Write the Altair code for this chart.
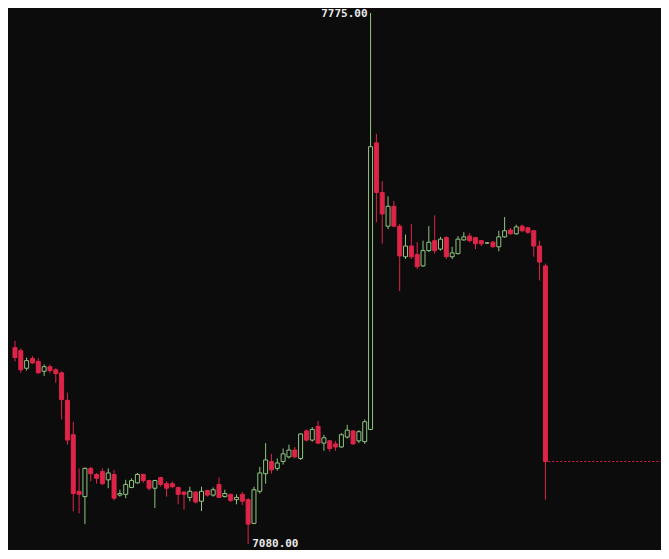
import altair as alt
import pandas as pd

# OHLC values (one entry per candle, left to right)
opens = [7337, 7333, 7310, 7323, 7319, 7306, 7312, 7308, 7304, 7268,
         7223, 7149, 7142, 7179, 7171, 7175, 7164, 7171, 7144, 7145,
         7154, 7160, 7171, 7163, 7153, 7167, 7159, 7159, 7154, 7148,
         7141, 7148, 7136, 7150, 7144, 7158, 7142, 7145, 7138, 7145,
         7138, 7107, 7149, 7172, 7188, 7179, 7188, 7194, 7203, 7192,
         7228, 7216, 7234, 7212, 7215, 7211, 7207, 7220, 7228, 7215,
         7214, 7230, 7605, 7540, 7496, 7522, 7496, 7456, 7470, 7459,
         7444, 7464, 7477, 7466, 7481, 7456, 7460, 7478, 7483, 7481,
         7477, 7474, 7475, 7469, 7482, 7491, 7486, 7496, 7494, 7490,
         7470, 7444]
highs = [7346, 7336, 7324, 7326, 7323, 7315, 7315, 7310, 7306, 7278,
         7240, 7179, 7180, 7181, 7173, 7179, 7179, 7177, 7151, 7164,
         7166, 7173, 7172, 7164, 7164, 7168, 7162, 7162, 7155, 7149,
         7155, 7149, 7155, 7151, 7154, 7167, 7151, 7146, 7145, 7148,
         7140, 7155, 7181, 7212, 7198, 7192, 7205, 7210, 7207, 7225,
         7230, 7233, 7241, 7223, 7216, 7215, 7225, 7236, 7229, 7229,
         7243, 7775, 7617, 7555, 7535, 7529, 7499, 7485, 7499, 7475,
         7477, 7496, 7510, 7482, 7483, 7469, 7483, 7488, 7487, 7482,
         7478, 7475, 7477, 7490, 7508, 7494, 7498, 7498, 7495, 7491,
         7477, 7447]
lows = [7319, 7304, 7307, 7316, 7303, 7300, 7304, 7291, 7243, 7210,
        7123, 7120, 7106, 7162, 7159, 7157, 7153, 7137, 7142, 7140,
        7153, 7159, 7160, 7150, 7127, 7155, 7142, 7153, 7132, 7125,
        7136, 7133, 7123, 7142, 7142, 7140, 7141, 7135, 7132, 7131,
        7080, 7106, 7146, 7159, 7172, 7176, 7184, 7192, 7192, 7190,
        7214, 7214, 7211, 7202, 7201, 7202, 7206, 7218, 7210, 7212,
        7211, 7229, 7501, 7473, 7492, 7495, 7411, 7453, 7453, 7440,
        7443, 7462, 7460, 7464, 7453, 7453, 7459, 7477, 7475, 7466,
        7470, 7473, 7468, 7463, 7481, 7485, 7485, 7488, 7486, 7456,
        7425, 7138]
closes = [7324, 7308, 7320, 7317, 7304, 7312, 7307, 7303, 7269, 7216,
          7146, 7145, 7179, 7172, 7166, 7159, 7173, 7140, 7146, 7158,
          7163, 7171, 7163, 7153, 7163, 7158, 7153, 7155, 7145, 7145,
          7149, 7135, 7149, 7144, 7151, 7141, 7146, 7137, 7141, 7136,
          7106, 7151, 7173, 7190, 7177, 7186, 7198, 7203, 7194, 7224,
          7216, 7230, 7212, 7219, 7205, 7207, 7223, 7229, 7211, 7227,
          7240, 7600, 7540, 7512, 7522, 7496, 7457, 7470, 7456, 7443,
          7464, 7475, 7464, 7479, 7456, 7461, 7479, 7482, 7477, 7473,
          7473, 7474, 7469, 7482, 7490, 7486, 7495, 7490, 7488, 7470,
          7449, 7188]
label_prices = [7775.00, 7080.00]
label_texts = ["7775.00", "7080.00"]

BG = "#0c0c0c"
RED = "#de2448"
GREEN = "#8ec57f"
W, H = 653, 542

n = len(opens)
df = pd.DataFrame({"i": list(range(n)), "open": opens, "high": highs,
                   "low": lows, "close": closes})
df["dir"] = ["up" if c >= o else "down" for o, c in zip(opens, closes)]

xs = alt.Scale(domain=[-0.338, 109.97], nice=False, zero=False)
ys = alt.Scale(domain=[7072.15, 7781.54], nice=False, zero=False)
cs = alt.Scale(domain=["up", "down"], range=[GREEN, RED])
fs = alt.Scale(domain=["up", "down"], range=[BG, RED])

X = alt.X("i:Q", scale=xs, axis=None)

wicks = alt.Chart(df).mark_rule(strokeWidth=1).encode(
    x=X,
    y=alt.Y("low:Q", scale=ys, axis=None),
    y2="high:Q",
    color=alt.Color("dir:N", scale=cs, legend=None),
)

bodies = alt.Chart(df).mark_bar(size=4, strokeWidth=1).encode(
    x=X,
    y=alt.Y("open:Q", scale=ys, axis=None),
    y2="close:Q",
    stroke=alt.Stroke("dir:N", scale=cs, legend=None),
    fill=alt.Fill("dir:N", scale=fs, legend=None),
)

last_df = pd.DataFrame({"x": [n - 1 + 0.5], "y": [closes[-1]]})
last_line = alt.Chart(last_df).mark_rule(
    color=RED, strokeDash=[2, 2], strokeWidth=1, opacity=1
).encode(
    x=alt.X("x:Q", scale=xs, axis=None),
    x2=alt.value(W),
    y=alt.Y("y:Q", scale=ys, axis=None),
)

hi_i = int(df["high"].idxmax())
lo_i = int(df["low"].idxmin())
hi_df = pd.DataFrame({"i": [hi_i], "p": [label_prices[0]], "t": [label_texts[0]]})
lo_df = pd.DataFrame({"i": [lo_i], "p": [label_prices[1]], "t": [label_texts[1]]})

hi_label = alt.Chart(hi_df).mark_text(
    align="right", baseline="middle", dx=-3, dy=1,
    font="DejaVu Sans Mono", fontSize=11, fontWeight="bold", color="#e8e8e8"
).encode(
    x=alt.X("i:Q", scale=xs, axis=None),
    y=alt.Y("p:Q", scale=ys, axis=None),
    text="t:N",
)

lo_label = alt.Chart(lo_df).mark_text(
    align="left", baseline="middle", dx=4, dy=0,
    font="DejaVu Sans Mono", fontSize=11, fontWeight="bold", color="#e8e8e8"
).encode(
    x=alt.X("i:Q", scale=xs, axis=None),
    y=alt.Y("p:Q", scale=ys, axis=None),
    text="t:N",
)

chart = alt.layer(wicks, bodies, last_line, hi_label, lo_label).properties(
    width=W, height=H, padding=0,
    autosize=alt.AutoSizeParams(type="none"),
    background=BG,
).configure_view(stroke=None)

chart.save("out.html", embed_options={"renderer": "svg", "actions": False})
